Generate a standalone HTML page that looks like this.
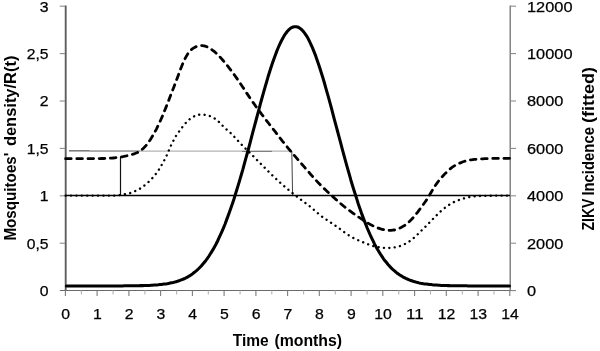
<!DOCTYPE html>
<html><head><meta charset="utf-8"><title>chart</title>
<style>html,body{margin:0;padding:0;background:#fff}svg{display:block}text{font-family:"Liberation Sans",sans-serif;fill:#000}</style></head><body>
<svg width="600" height="351" viewBox="0 0 600 351">
<rect width="600" height="351" fill="#fff"/>
<path d="M65.7,5.4 V290.4" stroke="#5e5e5e" stroke-width="1.9" fill="none"/>
<path d="M510.2,5.6 V290.4" stroke="#707070" stroke-width="1.3" fill="none"/>
<path d="M59.8,290.5 H516.0" stroke="#6a6a6a" stroke-width="1.1" fill="none"/>
<g stroke="#8c8c8c" stroke-width="1.1" fill="none">
<path d="M510.5,290.6 H516"/>
<path d="M59.7,243.2 H65"/>
<path d="M510.5,243.2 H516"/>
<path d="M59.7,195.8 H65"/>
<path d="M510.5,195.8 H516"/>
<path d="M59.7,148.4 H65"/>
<path d="M510.5,148.4 H516"/>
<path d="M59.7,101.0 H65"/>
<path d="M510.5,101.0 H516"/>
<path d="M59.7,53.6 H65"/>
<path d="M510.5,53.6 H516"/>
<path d="M59.7,6.2 H65"/>
<path d="M510.5,6.2 H516"/>
<path d="M65.4,290.4 V296.0" stroke="#7c7c7c"/>
<path d="M97.1,290.4 V296.0" stroke="#7c7c7c"/>
<path d="M128.9,290.4 V296.0" stroke="#7c7c7c"/>
<path d="M160.6,290.4 V296.0" stroke="#7c7c7c"/>
<path d="M192.4,290.4 V296.0" stroke="#7c7c7c"/>
<path d="M224.1,290.4 V296.0" stroke="#7c7c7c"/>
<path d="M255.9,290.4 V296.0" stroke="#7c7c7c"/>
<path d="M287.6,290.4 V296.0" stroke="#7c7c7c"/>
<path d="M319.3,290.4 V296.0" stroke="#7c7c7c"/>
<path d="M351.1,290.4 V296.0" stroke="#7c7c7c"/>
<path d="M382.8,290.4 V296.0" stroke="#7c7c7c"/>
<path d="M414.6,290.4 V296.0" stroke="#7c7c7c"/>
<path d="M446.3,290.4 V296.0" stroke="#7c7c7c"/>
<path d="M478.1,290.4 V296.0" stroke="#7c7c7c"/>
<path d="M509.8,290.4 V296.0" stroke="#7c7c7c"/>
<path d="M81.4,290.4 V294.59999999999997" stroke="#b4b4b4"/>
<path d="M113.1,290.4 V294.59999999999997" stroke="#b4b4b4"/>
<path d="M144.9,290.4 V294.59999999999997" stroke="#b4b4b4"/>
<path d="M176.6,290.4 V294.59999999999997" stroke="#b4b4b4"/>
<path d="M208.3,290.4 V294.59999999999997" stroke="#b4b4b4"/>
<path d="M240.1,290.4 V294.59999999999997" stroke="#b4b4b4"/>
<path d="M271.8,290.4 V294.59999999999997" stroke="#b4b4b4"/>
<path d="M303.6,290.4 V294.59999999999997" stroke="#b4b4b4"/>
<path d="M335.3,290.4 V294.59999999999997" stroke="#b4b4b4"/>
<path d="M367.1,290.4 V294.59999999999997" stroke="#b4b4b4"/>
<path d="M398.8,290.4 V294.59999999999997" stroke="#b4b4b4"/>
<path d="M430.5,290.4 V294.59999999999997" stroke="#b4b4b4"/>
<path d="M462.3,290.4 V294.59999999999997" stroke="#b4b4b4"/>
<path d="M494.0,290.4 V294.59999999999997" stroke="#b4b4b4"/>
</g>
<path d="M69,151.1 H292" stroke="#a0a0a0" stroke-width="1" fill="none"/>
<path d="M69,150.7 H89.5" stroke="#666" stroke-width="1" fill="none"/>
<path d="M89.5,151 H140" stroke="#8c8c8c" stroke-width="1" fill="none"/>
<path d="M242,151.4 H272" stroke="#777" stroke-width="1" fill="none"/>
<path d="M120.5,156.5 V195.6" stroke="#111" stroke-width="1.2" fill="none"/>
<path d="M291.8,151 L292.6,195" stroke="#444" stroke-width="1" fill="none"/>
<path d="M65.6,195.6 H510.0" stroke="#000" stroke-width="1.5" fill="none"/>
<path d="M65.6,195.6 L67.1,195.6 L68.6,195.6 L70.1,195.6 L71.5,195.6 L73.0,195.6 L74.5,195.6 L76.0,195.6 L77.5,195.6 L79.0,195.6 L80.5,195.6 L81.9,195.6 L83.4,195.6 L84.9,195.6 L86.4,195.6 L87.9,195.6 L89.4,195.6 L90.9,195.6 L92.4,195.6 L93.8,195.6 L95.3,195.6 L96.8,195.6 L98.3,195.6 L99.8,195.6 L101.3,195.6 L102.8,195.6 L104.2,195.6 L105.7,195.6 L107.2,195.6 L108.7,195.6 L110.2,195.6 L111.7,195.6 L113.2,195.6 L114.6,195.6 L116.1,195.6 L117.6,195.4 L119.1,195.2 L120.6,195.0 L122.1,194.6 L123.6,194.4 L125.1,194.2 L126.5,194.0 L128.0,193.7 L129.5,193.3 L131.0,192.8 L132.5,192.2 L134.0,191.5 L135.5,190.9 L136.9,190.3 L138.4,189.6 L139.9,188.7 L141.4,187.7 L142.9,186.6 L144.4,185.5 L145.9,184.4 L147.3,183.2 L148.8,181.7 L150.3,180.2 L151.8,178.7 L153.3,177.1 L154.8,175.3 L156.3,173.3 L157.7,171.3 L159.2,169.2 L160.7,166.8 L162.2,164.0 L163.7,161.4 L165.2,158.6 L166.7,155.4 L168.2,152.0 L169.6,148.6 L171.1,145.2 L172.6,142.2 L174.1,139.4 L175.6,136.6 L177.1,134.2 L178.6,132.2 L180.0,130.2 L181.5,128.2 L183.0,126.2 L184.5,124.4 L186.0,122.7 L187.5,121.2 L189.0,119.8 L190.4,118.6 L191.9,117.5 L193.4,116.7 L194.9,116.0 L196.4,115.4 L197.9,115.0 L199.4,114.7 L200.9,114.6 L202.3,114.6 L203.8,114.7 L205.3,114.9 L206.8,115.2 L208.3,115.6 L209.8,116.0 L211.3,116.6 L212.7,117.3 L214.2,118.1 L215.7,119.2 L217.2,120.4 L218.7,121.7 L220.2,123.2 L221.7,124.7 L223.1,126.2 L224.6,127.7 L226.1,129.1 L227.6,130.4 L229.1,131.7 L230.6,133.0 L232.1,134.5 L233.6,136.0 L235.0,137.6 L236.5,139.2 L238.0,140.8 L239.5,142.5 L241.0,144.0 L242.5,145.6 L244.0,147.1 L245.4,148.5 L246.9,150.0 L248.4,151.4 L249.9,152.9 L251.4,154.4 L252.9,155.8 L254.4,157.3 L255.8,158.8 L257.3,160.3 L258.8,161.8 L260.3,163.3 L261.8,164.8 L263.3,166.3 L264.8,167.8 L266.2,169.3 L267.7,170.8 L269.2,172.2 L270.7,173.7 L272.2,175.2 L273.7,176.6 L275.2,178.0 L276.7,179.4 L278.1,180.8 L279.6,182.2 L281.1,183.5 L282.6,184.8 L284.1,186.1 L285.6,187.3 L287.1,188.6 L288.5,189.8 L290.0,191.0 L291.5,192.2 L293.0,193.5 L294.5,194.7 L296.0,195.9 L297.5,197.0 L298.9,198.2 L300.4,199.3 L301.9,200.4 L303.4,201.5 L304.9,202.6 L306.4,203.7 L307.9,204.8 L309.4,206.0 L310.8,207.2 L312.3,208.4 L313.8,209.7 L315.3,211.0 L316.8,212.3 L318.3,213.6 L319.8,214.8 L321.2,216.0 L322.7,217.1 L324.2,218.1 L325.7,219.1 L327.2,220.1 L328.7,221.1 L330.2,222.1 L331.6,223.1 L333.1,224.1 L334.6,225.2 L336.1,226.2 L337.6,227.3 L339.1,228.3 L340.6,229.4 L342.0,230.5 L343.5,231.6 L345.0,232.7 L346.5,233.7 L348.0,234.7 L349.5,235.7 L351.0,236.6 L352.5,237.4 L353.9,238.2 L355.4,238.9 L356.9,239.6 L358.4,240.3 L359.9,240.9 L361.4,241.6 L362.9,242.2 L364.3,242.9 L365.8,243.5 L367.3,244.0 L368.8,244.6 L370.3,245.1 L371.8,245.6 L373.3,246.0 L374.7,246.4 L376.2,246.7 L377.7,247.0 L379.2,247.3 L380.7,247.5 L382.2,247.7 L383.7,247.9 L385.2,248.0 L386.6,248.1 L388.1,248.1 L389.6,248.0 L391.1,247.9 L392.6,247.7 L394.1,247.5 L395.6,247.2 L397.0,246.9 L398.5,246.5 L400.0,246.0 L401.5,245.5 L403.0,244.9 L404.5,244.2 L406.0,243.5 L407.4,242.7 L408.9,241.7 L410.4,240.7 L411.9,239.5 L413.4,238.3 L414.9,236.9 L416.4,235.6 L417.9,234.1 L419.3,232.7 L420.8,231.2 L422.3,229.7 L423.8,228.2 L425.3,226.8 L426.8,225.3 L428.3,223.8 L429.7,222.3 L431.2,220.7 L432.7,219.2 L434.2,217.7 L435.7,216.2 L437.2,214.7 L438.7,213.3 L440.1,211.9 L441.6,210.5 L443.1,209.2 L444.6,208.0 L446.1,206.9 L447.6,205.8 L449.1,204.8 L450.5,203.9 L452.0,203.0 L453.5,202.3 L455.0,201.6 L456.5,200.9 L458.0,200.3 L459.5,199.8 L461.0,199.3 L462.4,198.8 L463.9,198.4 L465.4,198.0 L466.9,197.6 L468.4,197.3 L469.9,197.0 L471.4,196.8 L472.8,196.6 L474.3,196.4 L475.8,196.3 L477.3,196.2 L478.8,196.1 L480.3,196.0 L481.8,195.9 L483.2,195.9 L484.7,195.8 L486.2,195.8 L487.7,195.7 L489.2,195.7 L490.7,195.7 L492.2,195.7 L493.7,195.6 L495.1,195.6 L496.6,195.6 L498.1,195.6 L499.6,195.6 L501.1,195.6 L502.6,195.6 L504.1,195.6 L505.5,195.6 L507.0,195.6 L508.5,195.6 L510.0,195.6" stroke="#000" stroke-width="2.35" stroke-linecap="round" stroke-dasharray="0.1 5.3" fill="none"/>
<path d="M65.6,158.7 L67.1,158.7 L68.6,158.7 L70.1,158.7 L71.5,158.7 L73.0,158.7 L74.5,158.7 L76.0,158.7 L77.5,158.7 L79.0,158.7 L80.5,158.7 L81.9,158.7 L83.4,158.7 L84.9,158.7 L86.4,158.7 L87.9,158.7 L89.4,158.7 L90.9,158.6 L92.4,158.6 L93.8,158.6 L95.3,158.6 L96.8,158.6 L98.3,158.6 L99.8,158.6 L101.3,158.5 L102.8,158.5 L104.2,158.5 L105.7,158.4 L107.2,158.3 L108.7,158.3 L110.2,158.2 L111.7,158.1 L113.2,158.0 L114.6,157.9 L116.1,157.7 L117.6,157.5 L119.1,157.3 L120.6,157.1 L122.1,156.8 L123.6,156.5 L125.1,156.2 L126.5,155.9 L128.0,155.5 L129.5,155.1 L131.0,154.7 L132.5,154.3 L134.0,153.9 L135.5,153.3 L136.9,152.7 L138.4,152.0 L139.9,151.1 L141.4,150.0 L142.9,148.7 L144.4,147.3 L145.9,145.7 L147.3,143.9 L148.8,141.9 L150.3,139.7 L151.8,137.3 L153.3,134.8 L154.8,132.1 L156.3,129.3 L157.7,126.4 L159.2,123.3 L160.7,120.0 L162.2,116.6 L163.7,113.1 L165.2,109.3 L166.7,105.5 L168.2,101.7 L169.6,97.9 L171.1,94.0 L172.6,90.2 L174.1,86.4 L175.6,82.4 L177.1,78.4 L178.6,74.4 L180.0,70.5 L181.5,66.7 L183.0,63.1 L184.5,59.7 L186.0,56.8 L187.5,54.2 L189.0,52.2 L190.4,50.5 L191.9,49.2 L193.4,48.1 L194.9,47.2 L196.4,46.5 L197.9,46.0 L199.4,45.7 L200.9,45.6 L202.3,45.6 L203.8,45.8 L205.3,46.2 L206.8,46.7 L208.3,47.4 L209.8,48.2 L211.3,49.2 L212.7,50.3 L214.2,51.4 L215.7,52.7 L217.2,54.1 L218.7,55.6 L220.2,57.2 L221.7,58.8 L223.1,60.5 L224.6,62.3 L226.1,64.1 L227.6,65.9 L229.1,67.8 L230.6,69.8 L232.1,71.8 L233.6,73.8 L235.0,75.8 L236.5,77.9 L238.0,80.1 L239.5,82.3 L241.0,84.5 L242.5,86.7 L244.0,88.9 L245.4,91.2 L246.9,93.4 L248.4,95.6 L249.9,97.9 L251.4,100.0 L252.9,102.2 L254.4,104.3 L255.8,106.4 L257.3,108.4 L258.8,110.4 L260.3,112.4 L261.8,114.4 L263.3,116.3 L264.8,118.2 L266.2,120.2 L267.7,122.1 L269.2,124.0 L270.7,125.9 L272.2,127.9 L273.7,129.8 L275.2,131.7 L276.7,133.7 L278.1,135.6 L279.6,137.5 L281.1,139.4 L282.6,141.3 L284.1,143.1 L285.6,145.0 L287.1,146.8 L288.5,148.6 L290.0,150.3 L291.5,152.1 L293.0,153.9 L294.5,155.6 L296.0,157.3 L297.5,159.1 L298.9,160.8 L300.4,162.5 L301.9,164.2 L303.4,165.9 L304.9,167.6 L306.4,169.4 L307.9,171.1 L309.4,172.8 L310.8,174.5 L312.3,176.1 L313.8,177.8 L315.3,179.5 L316.8,181.1 L318.3,182.7 L319.8,184.2 L321.2,185.8 L322.7,187.2 L324.2,188.6 L325.7,190.0 L327.2,191.4 L328.7,192.8 L330.2,194.1 L331.6,195.5 L333.1,196.9 L334.6,198.2 L336.1,199.6 L337.6,200.9 L339.1,202.2 L340.6,203.5 L342.0,204.7 L343.5,206.0 L345.0,207.2 L346.5,208.3 L348.0,209.5 L349.5,210.6 L351.0,211.7 L352.5,212.8 L353.9,213.8 L355.4,214.9 L356.9,215.9 L358.4,216.9 L359.9,217.9 L361.4,218.9 L362.9,219.9 L364.3,220.9 L365.8,221.8 L367.3,222.7 L368.8,223.6 L370.3,224.5 L371.8,225.2 L373.3,226.0 L374.7,226.7 L376.2,227.3 L377.7,227.9 L379.2,228.4 L380.7,228.9 L382.2,229.3 L383.7,229.7 L385.2,230.0 L386.6,230.2 L388.1,230.4 L389.6,230.4 L391.1,230.4 L392.6,230.2 L394.1,230.0 L395.6,229.6 L397.0,229.2 L398.5,228.6 L400.0,228.0 L401.5,227.3 L403.0,226.4 L404.5,225.5 L406.0,224.5 L407.4,223.3 L408.9,222.0 L410.4,220.6 L411.9,219.0 L413.4,217.4 L414.9,215.6 L416.4,213.7 L417.9,211.8 L419.3,209.9 L420.8,207.9 L422.3,205.9 L423.8,203.8 L425.3,201.7 L426.8,199.5 L428.3,197.2 L429.7,194.8 L431.2,192.2 L432.7,189.7 L434.2,187.3 L435.7,185.0 L437.2,182.9 L438.7,180.9 L440.1,179.1 L441.6,177.4 L443.1,175.8 L444.6,174.1 L446.1,172.6 L447.6,171.2 L449.1,169.8 L450.5,168.6 L452.0,167.4 L453.5,166.4 L455.0,165.5 L456.5,164.7 L458.0,163.9 L459.5,163.2 L461.0,162.6 L462.4,162.0 L463.9,161.5 L465.4,161.1 L466.9,160.7 L468.4,160.3 L469.9,160.0 L471.4,159.8 L472.8,159.6 L474.3,159.4 L475.8,159.3 L477.3,159.2 L478.8,159.1 L480.3,159.0 L481.8,158.9 L483.2,158.8 L484.7,158.7 L486.2,158.7 L487.7,158.6 L489.2,158.5 L490.7,158.5 L492.2,158.4 L493.7,158.4 L495.1,158.4 L496.6,158.4 L498.1,158.4 L499.6,158.4 L501.1,158.4 L502.6,158.4 L504.1,158.4 L505.5,158.4 L507.0,158.4 L508.5,158.3 L510.0,158.3" stroke="#000" stroke-width="2.8" stroke-linecap="round" stroke-dasharray="5.6 5.6" fill="none"/>
<path d="M66.4,285.9 L67.9,285.9 L69.4,285.9 L70.8,285.9 L72.3,285.9 L73.8,285.9 L75.3,285.9 L76.8,285.9 L78.3,285.9 L79.7,285.9 L81.2,285.9 L82.7,285.9 L84.2,285.9 L85.7,285.9 L87.1,285.9 L88.6,285.9 L90.1,285.9 L91.6,285.9 L93.1,285.9 L94.6,285.9 L96.0,285.9 L97.5,285.9 L99.0,285.9 L100.5,285.9 L102.0,285.9 L103.4,285.9 L104.9,285.9 L106.4,285.9 L107.9,285.9 L109.4,285.9 L110.9,285.9 L112.3,285.9 L113.8,285.9 L115.3,285.9 L116.8,285.9 L118.3,285.9 L119.7,285.9 L121.2,285.9 L122.7,285.9 L124.2,285.8 L125.7,285.8 L127.2,285.8 L128.6,285.8 L130.1,285.8 L131.6,285.8 L133.1,285.8 L134.6,285.8 L136.1,285.7 L137.5,285.7 L139.0,285.7 L140.5,285.6 L142.0,285.6 L143.5,285.6 L144.9,285.5 L146.4,285.5 L147.9,285.4 L149.4,285.4 L150.9,285.3 L152.4,285.2 L153.8,285.1 L155.3,285.0 L156.8,284.9 L158.3,284.8 L159.8,284.6 L161.2,284.5 L162.7,284.3 L164.2,284.1 L165.7,283.9 L167.2,283.7 L168.7,283.4 L170.1,283.1 L171.6,282.8 L173.1,282.5 L174.6,282.1 L176.1,281.7 L177.5,281.3 L179.0,280.8 L180.5,280.2 L182.0,279.6 L183.5,279.0 L185.0,278.3 L186.4,277.6 L187.9,276.8 L189.4,275.9 L190.9,274.9 L192.4,273.9 L193.8,272.8 L195.3,271.6 L196.8,270.4 L198.3,269.0 L199.8,267.5 L201.3,266.0 L202.7,264.3 L204.2,262.5 L205.7,260.7 L207.2,258.7 L208.7,256.5 L210.1,254.3 L211.6,251.9 L213.1,249.4 L214.6,246.7 L216.1,244.0 L217.6,241.0 L219.0,237.9 L220.5,234.7 L222.0,231.4 L223.5,227.9 L225.0,224.2 L226.4,220.4 L227.9,216.4 L229.4,212.3 L230.9,208.1 L232.4,203.7 L233.9,199.2 L235.3,194.6 L236.8,189.8 L238.3,184.9 L239.8,179.9 L241.3,174.8 L242.8,169.6 L244.2,164.3 L245.7,158.9 L247.2,153.5 L248.7,148.0 L250.2,142.4 L251.6,136.8 L253.1,131.2 L254.6,125.6 L256.1,120.0 L257.6,114.4 L259.1,108.9 L260.5,103.4 L262.0,98.0 L263.5,92.6 L265.0,87.4 L266.5,82.3 L267.9,77.3 L269.4,72.5 L270.9,67.8 L272.4,63.3 L273.9,59.0 L275.4,54.9 L276.8,51.1 L278.3,47.5 L279.8,44.1 L281.3,41.0 L282.8,38.2 L284.2,35.7 L285.7,33.5 L287.2,31.5 L288.7,29.9 L290.2,28.6 L291.7,27.6 L293.1,27.0 L294.6,26.7 L296.1,26.7 L297.6,27.0 L299.1,27.7 L300.5,28.7 L302.0,30.0 L303.5,31.6 L305.0,33.6 L306.5,35.8 L308.0,38.3 L309.4,41.2 L310.9,44.3 L312.4,47.7 L313.9,51.3 L315.4,55.1 L316.8,59.2 L318.3,63.5 L319.8,68.0 L321.3,72.7 L322.8,77.5 L324.3,82.5 L325.7,87.6 L327.2,92.9 L328.7,98.2 L330.2,103.6 L331.7,109.1 L333.1,114.7 L334.6,120.3 L336.1,125.9 L337.6,131.5 L339.1,137.1 L340.6,142.7 L342.0,148.2 L343.5,153.7 L345.0,159.2 L346.5,164.6 L348.0,169.8 L349.5,175.1 L350.9,180.2 L352.4,185.2 L353.9,190.0 L355.4,194.8 L356.9,199.4 L358.3,204.0 L359.8,208.3 L361.3,212.6 L362.8,216.6 L364.3,220.6 L365.8,224.4 L367.2,228.0 L368.7,231.5 L370.2,234.9 L371.7,238.1 L373.2,241.2 L374.6,244.1 L376.1,246.9 L377.6,249.5 L379.1,252.0 L380.6,254.4 L382.1,256.6 L383.5,258.8 L385.0,260.8 L386.5,262.6 L388.0,264.4 L389.5,266.1 L390.9,267.6 L392.4,269.1 L393.9,270.4 L395.4,271.7 L396.9,272.9 L398.4,274.0 L399.8,275.0 L401.3,275.9 L402.8,276.8 L404.3,277.6 L405.8,278.4 L407.2,279.0 L408.7,279.7 L410.2,280.3 L411.7,280.8 L413.2,281.3 L414.7,281.7 L416.1,282.1 L417.6,282.5 L419.1,282.9 L420.6,283.2 L422.1,283.4 L423.5,283.7 L425.0,283.9 L426.5,284.1 L428.0,284.3 L429.5,284.5 L431.0,284.6 L432.4,284.8 L433.9,284.9 L435.4,285.0 L436.9,285.1 L438.4,285.2 L439.8,285.3 L441.3,285.4 L442.8,285.4 L444.3,285.5 L445.8,285.5 L447.3,285.6 L448.7,285.6 L450.2,285.7 L451.7,285.7 L453.2,285.7 L454.7,285.7 L456.2,285.8 L457.6,285.8 L459.1,285.8 L460.6,285.8 L462.1,285.8 L463.6,285.8 L465.0,285.8 L466.5,285.8 L468.0,285.9 L469.5,285.9 L471.0,285.9 L472.5,285.9 L473.9,285.9 L475.4,285.9 L476.9,285.9 L478.4,285.9 L479.9,285.9 L481.3,285.9 L482.8,285.9 L484.3,285.9 L485.8,285.9 L487.3,285.9 L488.8,285.9 L490.2,285.9 L491.7,285.9 L493.2,285.9 L494.7,285.9 L496.2,285.9 L497.6,285.9 L499.1,285.9 L500.6,285.9 L502.1,285.9 L503.6,285.9 L505.1,285.9 L506.5,285.9 L508.0,285.9 L509.5,285.9" stroke="#000" stroke-width="3.05" stroke-linejoin="round" stroke-linecap="round" fill="none"/>
<g font-size="15.3" stroke="#000" stroke-width="0.25">
<text x="48.6" y="295.9" text-anchor="end" textLength="8.8" lengthAdjust="spacingAndGlyphs">0</text>
<text x="48.6" y="248.5" text-anchor="end" textLength="21.8" lengthAdjust="spacingAndGlyphs">0,5</text>
<text x="48.6" y="201.1" text-anchor="end" textLength="8.8" lengthAdjust="spacingAndGlyphs">1</text>
<text x="48.6" y="153.7" text-anchor="end" textLength="21.8" lengthAdjust="spacingAndGlyphs">1,5</text>
<text x="48.6" y="106.3" text-anchor="end" textLength="8.8" lengthAdjust="spacingAndGlyphs">2</text>
<text x="48.6" y="58.9" text-anchor="end" textLength="21.8" lengthAdjust="spacingAndGlyphs">2,5</text>
<text x="48.6" y="11.5" text-anchor="end" textLength="8.8" lengthAdjust="spacingAndGlyphs">3</text>
<text x="527" y="295.9" textLength="9.1" lengthAdjust="spacingAndGlyphs">0</text>
<text x="527" y="248.5" textLength="36.4" lengthAdjust="spacingAndGlyphs">2000</text>
<text x="527" y="201.1" textLength="36.4" lengthAdjust="spacingAndGlyphs">4000</text>
<text x="527" y="153.7" textLength="36.4" lengthAdjust="spacingAndGlyphs">6000</text>
<text x="527" y="106.3" textLength="36.4" lengthAdjust="spacingAndGlyphs">8000</text>
<text x="527" y="58.9" textLength="45.5" lengthAdjust="spacingAndGlyphs">10000</text>
<text x="527" y="11.5" textLength="45.5" lengthAdjust="spacingAndGlyphs">12000</text>
<text x="65.6" y="319.4" text-anchor="middle" textLength="8.8" lengthAdjust="spacingAndGlyphs">0</text>
<text x="97.3" y="319.4" text-anchor="middle" textLength="8.8" lengthAdjust="spacingAndGlyphs">1</text>
<text x="129.1" y="319.4" text-anchor="middle" textLength="8.8" lengthAdjust="spacingAndGlyphs">2</text>
<text x="160.8" y="319.4" text-anchor="middle" textLength="8.8" lengthAdjust="spacingAndGlyphs">3</text>
<text x="192.6" y="319.4" text-anchor="middle" textLength="8.8" lengthAdjust="spacingAndGlyphs">4</text>
<text x="224.3" y="319.4" text-anchor="middle" textLength="8.8" lengthAdjust="spacingAndGlyphs">5</text>
<text x="256.1" y="319.4" text-anchor="middle" textLength="8.8" lengthAdjust="spacingAndGlyphs">6</text>
<text x="287.8" y="319.4" text-anchor="middle" textLength="8.8" lengthAdjust="spacingAndGlyphs">7</text>
<text x="319.5" y="319.4" text-anchor="middle" textLength="8.8" lengthAdjust="spacingAndGlyphs">8</text>
<text x="351.3" y="319.4" text-anchor="middle" textLength="8.8" lengthAdjust="spacingAndGlyphs">9</text>
<text x="383.0" y="319.4" text-anchor="middle" textLength="17.6" lengthAdjust="spacingAndGlyphs">10</text>
<text x="414.8" y="319.4" text-anchor="middle" textLength="17.6" lengthAdjust="spacingAndGlyphs">11</text>
<text x="446.5" y="319.4" text-anchor="middle" textLength="17.6" lengthAdjust="spacingAndGlyphs">12</text>
<text x="478.3" y="319.4" text-anchor="middle" textLength="17.6" lengthAdjust="spacingAndGlyphs">13</text>
<text x="510.0" y="319.4" text-anchor="middle" textLength="17.6" lengthAdjust="spacingAndGlyphs">14</text>
</g>
<g font-size="15.6" font-weight="bold">
<text x="232.7" y="346.1" textLength="36.0" lengthAdjust="spacingAndGlyphs">Time</text>
<text x="274.4" y="346.1" textLength="67.7" lengthAdjust="spacingAndGlyphs">(months)</text>
<text transform="translate(15.5,240.6) rotate(-90)" textLength="88.0" lengthAdjust="spacingAndGlyphs">Mosquitoes'</text>
<text transform="translate(15.5,146.1) rotate(-90)" textLength="90.5" lengthAdjust="spacingAndGlyphs">density/R(t)</text>
<text transform="translate(594.2,230.6) rotate(-90)" textLength="32.0" lengthAdjust="spacingAndGlyphs">ZIKV</text>
<text transform="translate(594.2,195.6) rotate(-90)" textLength="68.5" lengthAdjust="spacingAndGlyphs">Incidence</text>
<text transform="translate(594.2,123.1) rotate(-90)" textLength="56.0" lengthAdjust="spacingAndGlyphs">(fitted)</text>
</g>
</svg></body></html>
